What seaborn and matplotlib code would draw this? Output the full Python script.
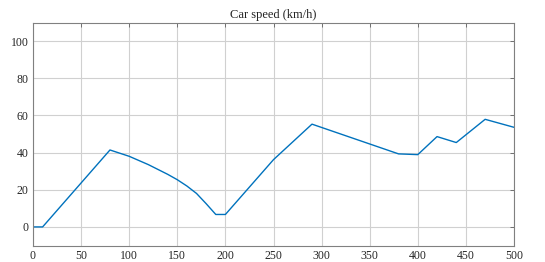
import pandas as pd
import numpy as np
import matplotlib
matplotlib.use("Agg")
import matplotlib.pyplot as plt
import seaborn as sns

# datos
tiempo = [0, 10, 80, 100, 120, 140, 150, 160, 170, 180, 190, 200,
          250, 290, 380, 400, 420, 440, 470, 500]
velocidad = [0, 0, 41.4, 38.0, 33.5, 28.3, 25.4, 22.0, 18.0, 12.5, 6.7, 6.7,
             36.2, 55.3, 39.3, 38.9, 48.6, 45.4, 57.9, 53.6]

df = pd.DataFrame({"t": tiempo, "v": velocidad})

sns.set_style("whitegrid")
plt.rcParams["font.family"] = ["Liberation Serif", "DejaVu Serif"]

fig = plt.figure(figsize=(5.45, 2.62), dpi=100)
ax = fig.add_axes([33 / 545, 1 - 245.5 / 262, 481 / 545, 223 / 262])

sns.lineplot(data=df, x="t", y="v", ax=ax, color="#0072BD", linewidth=1.0)

ax.set_xlim(0, 500)
ax.set_ylim(-10, 110)
ax.set_xticks(range(0, 501, 50))
ax.set_yticks(range(0, 101, 20))
ax.set_xlabel("")
ax.set_ylabel("")
ax.set_title("Car speed (km/h)", fontsize=9, pad=3, color="#222222")

ax.grid(True, color="#d0d0d0", linewidth=0.8)
for s in ax.spines.values():
    s.set_color("#808080")
    s.set_linewidth(0.8)
ax.tick_params(direction="in", length=3, width=0.6, color="#606060",
               labelsize=8.5, labelcolor="#262626", top=True, right=True, pad=3)

plt.savefig("out.png", dpi=100)
